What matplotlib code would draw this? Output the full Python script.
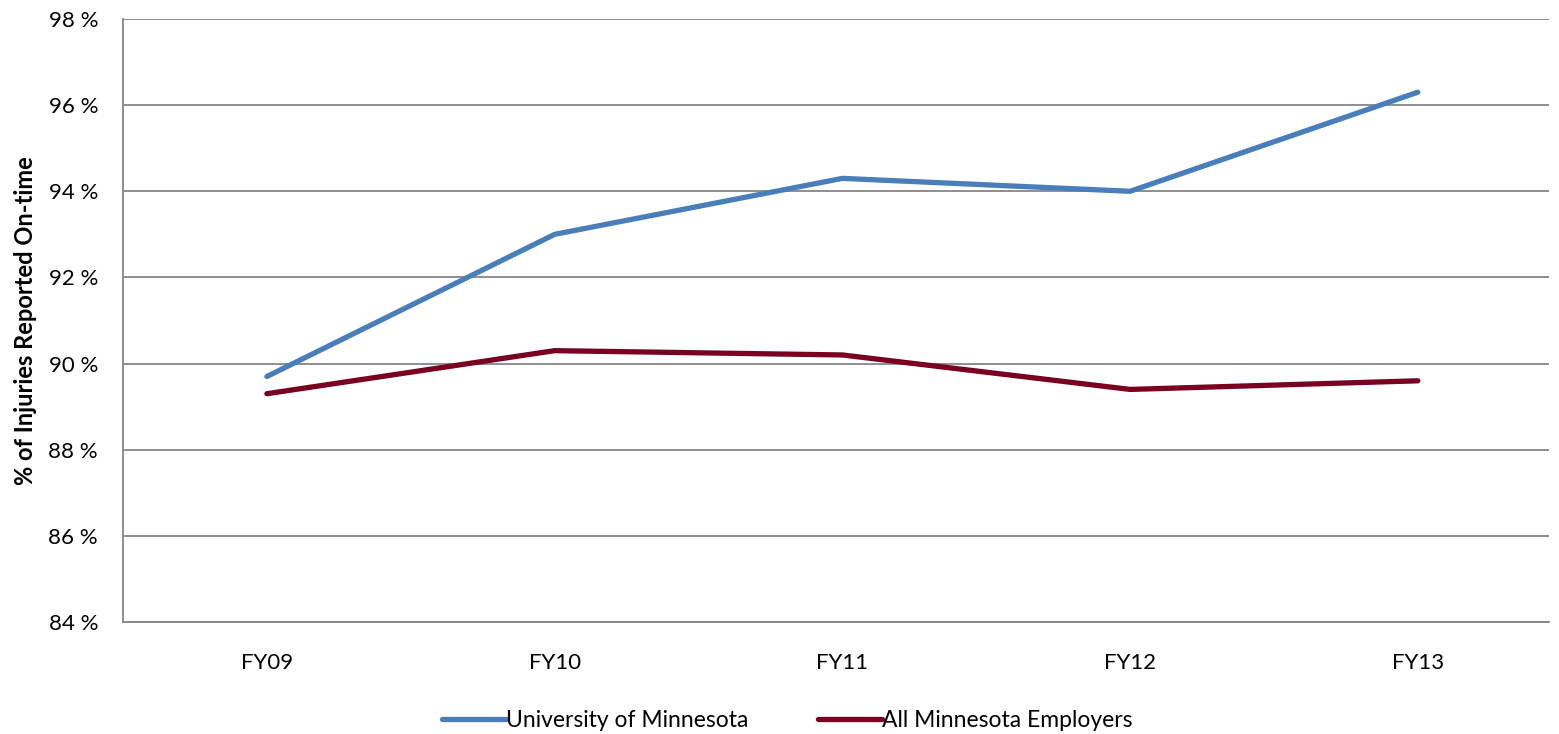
import matplotlib
matplotlib.use('Agg')
import matplotlib.pyplot as plt
from matplotlib.ticker import FuncFormatter

years = ['FY09', 'FY10', 'FY11', 'FY12', 'FY13']
umn = [89.7, 93.0, 94.3, 94.0, 96.3]
all_mn = [89.3, 90.3, 90.2, 89.4, 89.6]

plt.rcParams['font.family'] = ['Lato', 'DejaVu Sans']
grey = '#868686'

fig = plt.figure(figsize=(15.59, 7.34), dpi=100)
ax = fig.add_axes([0.0789, 0.1526, 0.9147, 0.8215])

x = range(len(years))
ax.plot(x, umn, color='#4A7EBB', lw=3.8, solid_capstyle='round', label='University of Minnesota')
ax.plot(x, all_mn, color='#7A0021', lw=3.8, solid_capstyle='round', label='All Minnesota Employers')

ax.set_xlim(-0.5, 4.456)
ax.set_ylim(84, 98)
ax.set_yticks(range(84, 99, 2))
ax.yaxis.set_major_formatter(FuncFormatter(lambda v, p: '%d %%' % v))
ax.set_xticks(list(x))
ax.set_xticklabels(years)
ax.tick_params(length=0, labelsize=16)
ax.tick_params(axis='y', pad=18)
ax.tick_params(axis='x', pad=22)
ax.grid(axis='y', color=grey, lw=1.3)
ax.set_axisbelow(True)
for s in ['top', 'right']:
    ax.spines[s].set_visible(False)
for s in ['left', 'bottom']:
    ax.spines[s].set_color(grey)
    ax.spines[s].set_linewidth(1.3)
ax.set_ylabel('% of Injuries Reported On-time', fontsize=17, fontweight='bold', labelpad=8)

fig.legend(loc='center', bbox_to_anchor=(0.505, 0.018), ncol=2, frameon=False,
           fontsize=16.5, handlelength=2.8, handletextpad=0.0, columnspacing=3.0)

plt.savefig('out.png', dpi=100)
